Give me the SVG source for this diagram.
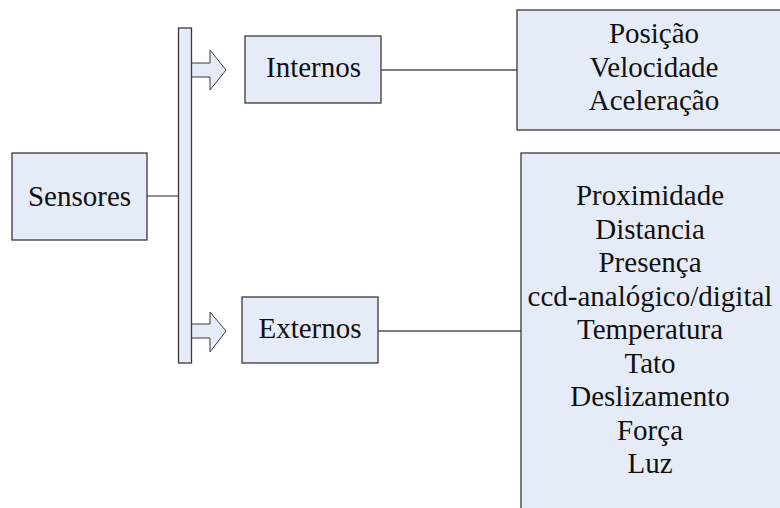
<svg xmlns="http://www.w3.org/2000/svg" width="780" height="508" viewBox="0 0 780 508">
<style>
.box{fill:#E6ECF7;stroke:#3A3A3A;stroke-width:1.3}
.arrow{fill:#E6ECF7;stroke:#3A3A3A;stroke-width:1}
.conn{stroke:#555;stroke-width:1.3;fill:none}
text{font-family:"Liberation Serif","Times New Roman",serif;font-size:29px;fill:#111;text-anchor:middle}
</style>
<rect width="780" height="508" fill="#fff"/>
<g id="connectors">
<line class="conn" x1="147" y1="196" x2="178" y2="196"/>
<line class="conn" x1="381" y1="70" x2="517" y2="70"/>
<line class="conn" x1="378" y1="331" x2="521" y2="331"/>
<path class="arrow" d="M191.5,63 H210 V50 L226,70 L210,90 V77 H191.5 Z"/>
<path class="arrow" d="M191.5,324 H210 V312 L226,331 L210,352 V338 H191.5 Z"/>
</g>
<g id="bar"><rect class="box" x="178.5" y="28" width="13" height="335"/></g>
<g id="sensores"><rect class="box" x="12" y="153" width="135" height="87"/><text x="79.5" y="206">Sensores</text></g>
<g id="internos"><rect class="box" x="245" y="36" width="136" height="67"/><text x="313.5" y="77">Internos</text></g>
<g id="externos"><rect class="box" x="242" y="297" width="136" height="66"/><text x="310" y="338">Externos</text></g>
<g id="internos-list"><rect class="box" x="517" y="10" width="280" height="120"/>
<text x="654" y="43">Posição</text>
<text x="654" y="77">Velocidade</text>
<text x="654" y="110">Aceleração</text>
</g>
<g id="externos-list"><rect class="box" x="521" y="153" width="280" height="370"/>
<text x="650" y="205">Proximidade</text>
<text x="650" y="238.5">Distancia</text>
<text x="650" y="272">Presença</text>
<text x="650" y="305.5">ccd-analógico/digital</text>
<text x="650" y="339">Temperatura</text>
<text x="650" y="372.5">Tato</text>
<text x="650" y="406">Deslizamento</text>
<text x="650" y="439.5">Força</text>
<text x="650" y="473">Luz</text>
</g>
</svg>
